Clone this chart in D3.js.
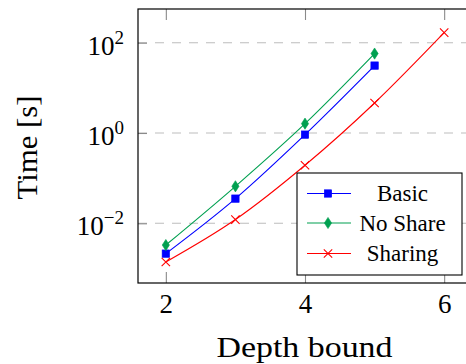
<!DOCTYPE html>
<html>
<head>
<meta charset="utf-8">
<script src="https://cdn.jsdelivr.net/npm/d3@7"></script>
<style>
  html, body { margin: 0; padding: 0; background: #fff; }
  svg { display: block; }
  text { font-family: "Liberation Serif", "Times New Roman", serif; fill: #000; }
</style>
</head>
<body>
<svg id="chart" width="466" height="364"></svg>
<script>
// ---- data ----
const depthsBasic = [2, 3, 4, 5];
const basicValues = [0.00213, 0.0352, 0.92, 31.1];
const depthsNoShare = [2, 3, 4, 5];
const noShareValues = [0.0033, 0.066, 1.61, 57.4];
const depthsSharing = [2, 3, 4, 5, 6];
const sharingValues = [0.00139, 0.0121, 0.193, 4.62, 167];
const xTickValues = [2, 4, 6];
const yTickExponents = [-2, 0, 2];
const seriesNames = ["Basic", "No Share", "Sharing"];
const xLabel = "Depth bound";
const yLabel = "Time [s]";

const colors = { "Basic": "#0000ff", "No Share": "#00a050", "Sharing": "#ff0000" };
const markers = { "Basic": "square", "No Share": "diamond", "Sharing": "cross" };

const series = [
  { name: seriesNames[0], xs: depthsBasic, ys: basicValues },
  { name: seriesNames[1], xs: depthsNoShare, ys: noShareValues },
  { name: seriesNames[2], xs: depthsSharing, ys: sharingValues }
];

// ---- layout ----
const pLeft = 138, pTop = 9, pRight = 472, pBottom = 283;
const svg = d3.select("#chart");

const x = d3.scaleLinear().domain([1.6, 6.4]).range([pLeft, pRight]);
const y = d3.scaleLog().domain([Math.pow(10, -3.322), Math.pow(10, 2.746)]).range([pBottom, pTop]);

// grid
svg.append("g").selectAll("line").data(yTickExponents).join("line")
  .attr("x1", pLeft).attr("x2", pRight)
  .attr("y1", d => y(Math.pow(10, d))).attr("y2", d => y(Math.pow(10, d)))
  .attr("stroke", "#bdbdbd").attr("stroke-width", 1.1).attr("stroke-dasharray", "9,8");

// axes (ticks drawn inward)
const tickCol = "#8a8a8a";
const xb = svg.append("g").attr("transform", `translate(0,${pBottom})`)
  .call(d3.axisBottom(x).tickValues(xTickValues).tickSize(-11).tickSizeOuter(0).tickPadding(11).tickFormat(d3.format("d")));
const xt = svg.append("g").attr("transform", `translate(0,${pTop})`)
  .call(d3.axisTop(x).tickValues(xTickValues).tickSize(-11).tickSizeOuter(0).tickFormat(""));
const yl = svg.append("g").attr("transform", `translate(${pLeft},0)`)
  .call(d3.axisLeft(y).tickValues(yTickExponents.map(e => Math.pow(10, e))).tickSize(-9).tickSizeOuter(0).tickPadding(14).tickFormat(""));

[xb, xt, yl].forEach(g => {
  g.attr("font-family", null);
  g.select(".domain").remove();
  g.selectAll(".tick line").attr("stroke", tickCol).attr("stroke-width", 1.1);
});
xb.selectAll(".tick text").attr("font-size", 27).attr("fill", "#000").attr("dy", "0.71em");

yl.selectAll(".tick text").each(function(d) {
  const e = Math.round(Math.log10(d));
  const t = d3.select(this).attr("font-size", 27)
    .attr("fill", "#000").attr("dy", "0.42em").attr("text-anchor", "end");
  t.text(null);
  t.append("tspan").text("10");
  t.append("tspan").attr("dy", -11).attr("font-size", 19).text(e < 0 ? "\u2212" + Math.abs(e) : String(e));
});

// frame
svg.append("rect").attr("x", pLeft).attr("y", pTop).attr("width", pRight - pLeft).attr("height", pBottom - pTop)
  .attr("fill", "none").attr("stroke", "#000").attr("stroke-width", 1.2);

// markers
function drawMarker(g, type, cx, cy, color) {
  if (type === "square") {
    g.append("rect").attr("x", cx - 3.7).attr("y", cy - 3.7).attr("width", 7.4).attr("height", 7.4)
      .attr("fill", color).attr("stroke", color).attr("stroke-width", 0.6);
  } else if (type === "diamond") {
    g.append("path").attr("d", `M${cx},${cy - 5.6}L${cx + 3.6},${cy}L${cx},${cy + 5.6}L${cx - 3.6},${cy}Z`)
      .attr("fill", color).attr("stroke", color).attr("stroke-width", 0.6);
  } else {
    const r = 4.2;
    g.append("path").attr("d", `M${cx - r},${cy - r}L${cx + r},${cy + r}M${cx - r},${cy + r}L${cx + r},${cy - r}`)
      .attr("fill", "none").attr("stroke", color).attr("stroke-width", 1.1);
  }
}

const line = d3.line().x(d => x(d[0])).y(d => y(d[1])).curve(d3.curveMonotoneX);
series.forEach(s => {
  const pts = s.xs.map((v, i) => [v, s.ys[i]]);
  const g = svg.append("g");
  g.append("path").datum(pts).attr("d", line).attr("fill", "none")
    .attr("stroke", colors[s.name]).attr("stroke-width", 1.1);
  pts.forEach(p => drawMarker(g, markers[s.name], x(p[0]), y(p[1]), colors[s.name]));
});

// legend
const lg = svg.append("g");
const lx = 297, ly = 173, lw = 165, lh = 102;
lg.append("rect").attr("x", lx).attr("y", ly).attr("width", lw).attr("height", lh)
  .attr("fill", "#fff").attr("stroke", "#000").attr("stroke-width", 1.1);
const rowY = [193.5, 223, 253.5];
series.forEach((s, i) => {
  const cy = rowY[i];
  lg.append("line").attr("x1", lx + 10).attr("x2", lx + 54).attr("y1", cy).attr("y2", cy)
    .attr("stroke", colors[s.name]).attr("stroke-width", 1.1);
  drawMarker(lg, markers[s.name], lx + 31, cy, colors[s.name]);
  lg.append("text").attr("x", 402.5).attr("y", cy).attr("dy", "0.33em").attr("text-anchor", "middle")
    .attr("font-size", 23).text(s.name);
});

// axis labels
svg.append("text").attr("x", 304.5).attr("y", 357).attr("text-anchor", "middle").attr("font-size", 30)
  .attr("textLength", 176).attr("lengthAdjust", "spacingAndGlyphs").text(xLabel);
svg.append("text").attr("transform", "translate(37,147.5) rotate(-90)").attr("text-anchor", "middle")
  .attr("font-size", 30).attr("textLength", 104).attr("lengthAdjust", "spacingAndGlyphs").text(yLabel);
</script>
</body>
</html>
